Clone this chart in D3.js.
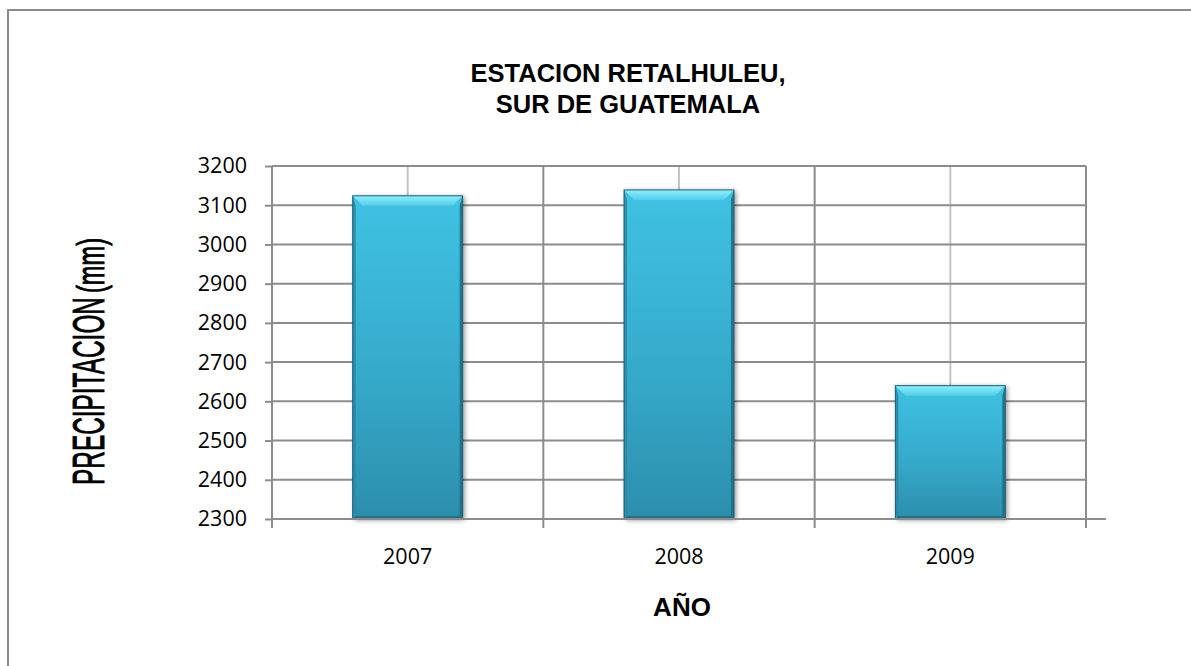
<!DOCTYPE html>
<html>
<head>
<meta charset="utf-8">
<script src="https://cdn.jsdelivr.net/npm/d3@7"></script>
<style>
  html, body { margin: 0; padding: 0; background: #ffffff; }
  svg { display: block; }
</style>
</head>
<body>
<svg id="chart" width="1191" height="666"></svg>
<script>
// Annual precipitation, Retalhuleu station
const years = ["2007", "2008", "2009"];
const precipitation = [3124, 3139, 2640];
const yTicks = [2300, 2400, 2500, 2600, 2700, 2800, 2900, 3000, 3100, 3200];
const titleLines = ["ESTACION RETALHULEU,", "SUR DE GUATEMALA"];
const xTitle = "AÑO";
const yTitleMain = "PRECIPITACION";
const yTitleUnit = "(mm)";

const svg = d3.select("#chart");
const plot = { left: 272, right: 1086, top: 166, bottom: 519 };

const x = d3.scaleBand().domain(years).range([plot.left, plot.right]).padding(0);
const y = d3.scaleLinear().domain([2300, 3200]).range([plot.bottom, plot.top]);

// outer frame of the chart object
svg.append("rect")
  .attr("x", 8).attr("y", 10).attr("width", 1300).attr("height", 800)
  .attr("fill", "#ffffff").attr("stroke", "#8a8a8a").attr("stroke-width", 2);

const defs = svg.append("defs");
const grad = defs.append("linearGradient").attr("id", "barFill")
  .attr("x1", 0).attr("y1", 0).attr("x2", 0).attr("y2", 1);
grad.append("stop").attr("offset", "0%").attr("stop-color", "#3fc2e3");
grad.append("stop").attr("offset", "55%").attr("stop-color", "#36aacb");
grad.append("stop").attr("offset", "100%").attr("stop-color", "#2c8eac");

const bevelTop = defs.append("linearGradient").attr("id", "bevelTop")
  .attr("x1", 0).attr("y1", 0).attr("x2", 0).attr("y2", 1);
bevelTop.append("stop").attr("offset", "0%").attr("stop-color", "#8ef0fd");
bevelTop.append("stop").attr("offset", "100%").attr("stop-color", "#52cde9");

const shadow = defs.append("filter").attr("id", "barShadow")
  .attr("x", "-20%").attr("y", "-10%").attr("width", "150%").attr("height", "130%");
shadow.append("feGaussianBlur").attr("in", "SourceAlpha").attr("stdDeviation", 2.5).attr("result", "blur");
shadow.append("feOffset").attr("in", "blur").attr("dx", 2).attr("dy", 1).attr("result", "off");
shadow.append("feComponentTransfer").attr("in", "off").attr("result", "soft")
  .append("feFuncA").attr("type", "linear").attr("slope", 0.45);
const merge = shadow.append("feMerge");
merge.append("feMergeNode").attr("in", "soft");
merge.append("feMergeNode").attr("in", "SourceGraphic");

// gridlines
const grid = svg.append("g");
grid.selectAll("line.minor").data(years).join("line")
  .attr("x1", d => x(d) + x.bandwidth() / 2).attr("x2", d => x(d) + x.bandwidth() / 2)
  .attr("y1", plot.top).attr("y2", plot.bottom)
  .attr("stroke", "#c4c4c4").attr("stroke-width", 2);
grid.selectAll("line.major").data(years.slice(1).concat(["end"])).join("line")
  .attr("x1", d => d === "end" ? plot.right : x(d))
  .attr("x2", d => d === "end" ? plot.right : x(d))
  .attr("y1", plot.top).attr("y2", plot.bottom)
  .attr("stroke", "#8c8c8c").attr("stroke-width", 2);
grid.selectAll("line.h").data(yTicks.slice(1)).join("line")
  .attr("x1", plot.left).attr("x2", plot.right)
  .attr("y1", d => y(d)).attr("y2", d => y(d))
  .attr("stroke", "#8c8c8c").attr("stroke-width", 2);

// bars with bevelled edges
const barW = x.bandwidth() * 0.405;
const bars = svg.append("g").selectAll("g").data(years.map((d, i) => ({ year: d, v: precipitation[i] }))).join("g");
bars.each(function (d) {
  const g = d3.select(this);
  const x0 = x(d.year) + (x.bandwidth() - barW) / 2;
  const x1 = x0 + barW;
  const y0 = y(d.v);
  const y1 = y(2300);
  const b = 10, s = 3;
  g.append("rect").attr("x", x0).attr("y", y0).attr("width", barW).attr("height", y1 - y0)
    .attr("fill", "url(#barFill)").attr("filter", "url(#barShadow)");
  // top bevel
  g.append("path").attr("d", `M${x0},${y0}L${x1},${y0}L${x1 - b},${y0 + b}L${x0 + b},${y0 + b}Z`)
    .attr("fill", "url(#bevelTop)");
  // side bevels
  g.append("path").attr("d", `M${x0},${y0}L${x0 + s},${y0 + b}L${x0 + s},${y1 - s}L${x0},${y1}Z`)
    .attr("fill", "#2a89a6").attr("opacity", 0.9);
  g.append("path").attr("d", `M${x1},${y0}L${x1 - s},${y0 + b}L${x1 - s},${y1 - s}L${x1},${y1}Z`)
    .attr("fill", "#1f6f88").attr("opacity", 0.9);
  g.append("path").attr("d", `M${x0},${y1}L${x0 + s},${y1 - s}L${x1 - s},${y1 - s}L${x1},${y1}Z`)
    .attr("fill", "#236f87");
  g.append("rect").attr("x", x0).attr("y", y0).attr("width", barW).attr("height", y1 - y0)
    .attr("fill", "none").attr("stroke", "#1d5f74").attr("stroke-width", 1);
});

// y axis
const yAxis = svg.append("g").attr("transform", `translate(${plot.left},0)`)
  .call(d3.axisLeft(y).tickValues(yTicks).tickSize(7).tickPadding(18).tickFormat(d3.format("d")));
yAxis.select(".domain").attr("stroke", "#8c8c8c").attr("stroke-width", 2)
  .attr("d", `M0,${plot.top}V${plot.bottom + 9}`);
yAxis.selectAll(".tick line").attr("stroke", "#8c8c8c").attr("stroke-width", 2);
yAxis.selectAll(".tick text").attr("font-family", "'Open Sans', sans-serif").attr("font-size", 21.5)
  .attr("fill", "#000");

// x axis
const xAxis = svg.append("g").attr("transform", `translate(0,${plot.bottom})`)
  .call(d3.axisBottom(x).tickSize(0).tickPadding(30));
xAxis.select(".domain").attr("stroke", "#8c8c8c").attr("stroke-width", 2)
  .attr("d", `M${plot.left},0H${plot.right + 20}`);
xAxis.selectAll(".tick text").attr("font-family", "'Open Sans', sans-serif").attr("font-size", 21.5)
  .attr("fill", "#000");
xAxis.selectAll("line.sep").data(years.slice(1).concat(["end"])).join("line")
  .attr("class", "sep")
  .attr("x1", d => d === "end" ? plot.right : x(d))
  .attr("x2", d => d === "end" ? plot.right : x(d))
  .attr("y1", 0).attr("y2", 9)
  .attr("stroke", "#8c8c8c").attr("stroke-width", 2);

// titles
const title = svg.append("text").attr("text-anchor", "middle")
  .attr("font-family", "'Liberation Sans', Arial, sans-serif").attr("font-weight", "bold")
  .attr("font-size", 25.5).attr("fill", "#000");
title.selectAll("tspan").data(titleLines).join("tspan")
  .attr("x", 628).attr("y", (d, i) => 82 + i * 31).text(d => d);

svg.append("text").attr("x", 682).attr("y", 616).attr("text-anchor", "middle")
  .attr("font-family", "'Liberation Sans', Arial, sans-serif").attr("font-weight", "bold")
  .attr("font-size", 26).attr("fill", "#000").text(xTitle);

const yt = svg.append("text")
  .attr("transform", "translate(104,485) rotate(-90)")
  .attr("font-family", "'Liberation Sans', Arial, sans-serif")
  .attr("fill", "#000").attr("stroke", "#000").attr("stroke-width", 0.9);
yt.append("tspan").attr("font-size", 45).attr("textLength", 188).attr("lengthAdjust", "spacingAndGlyphs")
  .text(yTitleMain);
yt.append("tspan").attr("font-size", 38).attr("dx", 4).attr("textLength", 55).attr("lengthAdjust", "spacingAndGlyphs")
  .text(yTitleUnit);
</script>
</body>
</html>
